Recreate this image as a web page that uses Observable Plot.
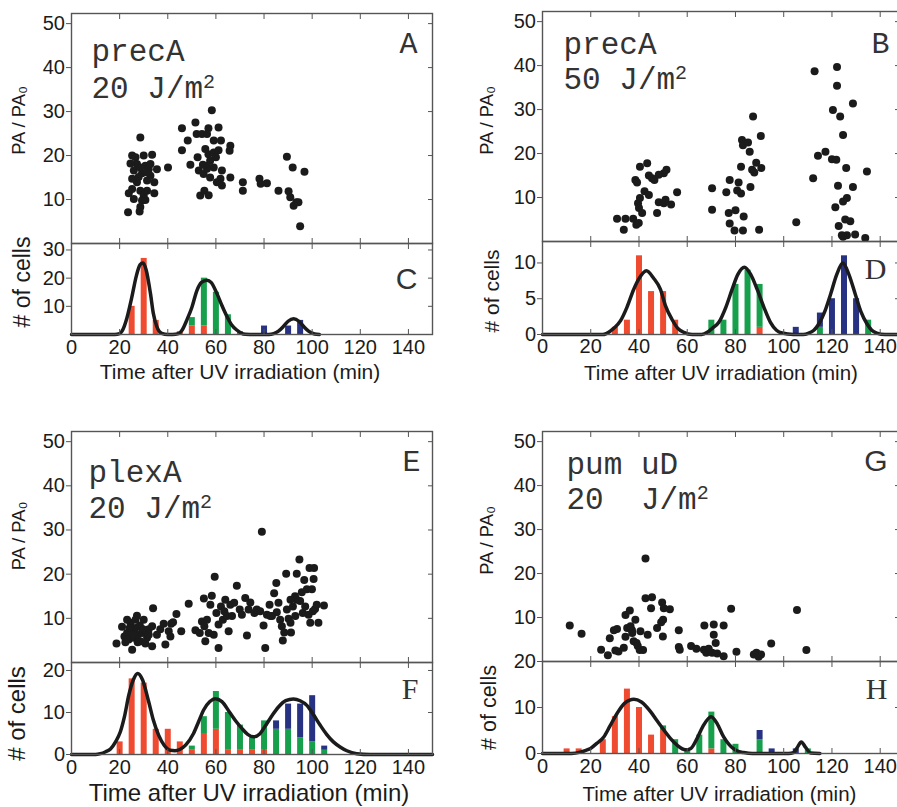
<!DOCTYPE html>
<html><head><meta charset="utf-8">
<script src="https://cdn.jsdelivr.net/npm/d3@7"></script>
<script src="https://cdn.jsdelivr.net/npm/@observablehq/plot@0.6"></script>
<style>
body{margin:0;background:#fff;}
#fig{position:relative;width:897px;height:807px;overflow:hidden;background:#fff;}
#fig svg{position:absolute;overflow:visible;background:transparent;}
</style></head><body><div id="fig"></div>
<script>
// ---------- shared tick labels / text ----------
const xTickValues = [0, 20, 40, 60, 80, 100, 120, 140];
const innerXTicks = [20, 40, 60, 80, 100, 120, 140];
const scatterYTicks = [10, 20, 30, 40, 50];
const xTitle = "Time after UV irradiation (min)";
const yTitleScatter = "PA / PA\u2080";
const yTitleHist = "# of cells";

// ---------- panel A (precA, 20 J/m2): [time, PA/PA0] ----------
const aPoints = [
  [23.5,7.1],[28.3,7.3],[28.6,24.1],[25.2,20.0],[30.0,20.0],[33.5,20.2],[24.5,18.2],[27.2,18.1],[30.7,17.7],
  [25.9,16.6],[32.1,16.9],[35.5,16.9],[29.3,16.0],[32.8,15.4],[27.2,13.9],[34.4,13.9],[31.4,14.3],[25.2,12.4],
  [23.8,11.4],[28.6,12.0],[30.0,10.9],[34.4,11.4],[25.9,10.1],[29.3,9.8],[30.7,9.9],[28.6,8.3],[40.1,17.3],
  [27.9,15.1],[31.4,12.0],[25.2,14.7],[26.6,19.6],[32.8,18.1],[28.6,17.3],[31.4,16.2],
  [45.9,21.2],[45.9,26.2],[48.3,23.4],[49.4,17.9],[51.5,27.5],[52.0,24.9],[54.2,24.9],[56.3,24.9],[56.9,26.2],
  [58.3,30.3],[61.1,26.4],[59.1,23.4],[62.1,23.4],[66.0,22.2],[65.7,21.1],[52.4,19.6],[55.6,21.5],[56.9,20.3],
  [59.1,20.7],[61.1,21.2],[57.6,18.8],[56.3,17.7],[59.1,17.3],[52.9,16.6],[54.9,15.8],[57.6,15.0],[61.9,14.7],
  [66.0,15.0],[62.5,16.6],[60.4,13.9],[62.5,13.2],[53.5,10.9],[55.2,12.0],[57.0,11.0],[56.3,17.0],[60.0,19.6],[54.6,17.9],
  [71.2,13.9],[71.2,12.0],[78.1,14.7],[78.6,13.6],[81.2,13.7],[86.0,12.0],[89.5,19.7],[90.2,11.9],[91.9,17.3],
  [90.9,10.5],[92.3,8.6],[93.4,9.4],[94.3,9.4],[95.0,3.9],[96.8,16.3]
];
// ---------- panel B (precA, 50 J/m2) ----------
const bPoints = [
  [30.9,5.2],[33.7,2.7],[34.4,5.2],[37.6,5.2],[38.9,3.8],[39.9,4.2],[38.5,14.0],[39.2,13.4],[40.4,17.0],[43.4,17.8],
  [39.6,8.7],[40.4,9.9],[40.0,7.6],[41.3,6.5],[42.3,11.4],[44.1,10.6],[44.1,15.0],[45.4,14.4],[46.4,14.0],[47.5,6.5],
  [48.2,8.9],[50.3,8.7],[50.3,15.5],[51.4,16.3],[53.3,8.4],[55.8,11.2],[48.2,15.2],[51.0,9.5],
  [70.3,12.1],[70.3,7.2],[76.2,11.2],[77.6,14.0],[77.2,6.5],[77.6,4.1],[79.6,2.5],[83.1,2.5],[81.3,13.4],[80.7,11.6],
  [82.3,10.9],[83.4,5.7],[80.0,7.1],[82.3,17.0],[82.7,23.1],[83.1,21.9],[85.2,22.5],[85.9,20.4],[86.2,12.4],[87.3,28.4],
  [86.9,16.3],[87.8,15.7],[88.6,17.9],[90.5,24.0],[90.7,16.7],[89.8,2.7],
  [105.2,4.4],[112.2,14.4],[112.8,38.7],[114.2,19.5],[117.3,20.4],[120.0,18.7],[121.8,18.6],[120.4,29.9],[122.1,39.7],
  [122.5,12.7],[122.1,35.4],[123.4,28.4],[124.6,24.2],[125.9,16.7],[128.7,31.4],[128.7,12.4],[124.6,9.1],[126.2,9.9],
  [121.4,7.8],[125.5,5.0],[127.6,4.6],[122.8,3.5],[134.5,15.9],[124.1,1.4],[126.2,1.4],[129.6,1.6],[133.8,0.8],[124.6,1.1]
];
// ---------- panel E (plexA, 20 J/m2) ----------
const ePoints = [
  [18.7,4.3],[21.0,8.1],[22.0,5.9],[23.1,6.7],[23.8,5.2],[24.5,9.0],[25.2,2.9],[25.2,7.3],[25.9,5.6],[26.6,7.8],
  [27.2,10.6],[27.5,6.3],[28.4,8.4],[28.6,4.8],[29.3,6.7],[30.0,9.7],[30.7,4.3],[31.4,5.6],[32.1,7.5],[33.5,3.7],
  [33.5,8.2],[33.9,12.3],[23.1,9.7],[24.2,7.8],[22.4,4.6],[26.6,9.7],[27.5,4.6],[25.6,6.3],[29.7,7.5],[32.1,6.3],
  [35.5,6.3],[36.9,7.5],[38.3,8.8],[39.0,4.1],[40.4,7.1],[41.1,5.9],[41.4,8.8],[42.2,9.1],[43.6,11.0],[45.6,7.1],[48.7,13.3],
  [51.5,7.3],[53.3,6.7],[55.0,14.5],[54.2,9.3],[55.2,8.2],[55.6,4.8],[56.3,9.7],[57.0,6.7],[58.3,15.1],[59.1,6.3],
  [59.5,19.4],[57.7,13.1],[60.2,11.2],[61.1,3.3],[61.1,8.6],[62.1,12.7],[62.9,9.7],[63.5,11.6],[63.9,14.2],[64.6,10.5],
  [65.3,7.1],[66.0,13.1],[66.7,10.5],[67.6,13.5],[68.7,17.4],[69.9,12.0],[70.8,10.8],[72.2,14.6],[72.9,6.1],[73.6,12.0],
  [74.3,13.6],[76.0,11.2],[77.0,12.0],
  [78.4,11.6],[79.1,29.6],[79.8,8.4],[80.5,3.3],[81.2,10.8],[82.3,13.1],[83.3,10.5],[84.2,15.7],[85.1,18.0],[85.3,11.4],
  [86.7,9.7],[87.4,8.2],[87.8,5.0],[88.4,6.8],[89.2,20.1],[89.5,12.0],[90.2,9.9],[91.0,9.0],[91.2,6.8],[92.0,12.7],
  [93.0,10.5],[92.9,15.0],[93.6,20.1],[94.7,23.3],[95.0,13.9],[95.7,15.9],[96.1,11.2],[96.7,18.7],[97.1,12.7],[97.8,16.6],
  [98.5,10.8],[98.9,21.4],[99.2,9.0],[99.9,16.6],[100.6,18.9],[100.8,21.4],[101.2,12.1],[101.9,13.1],[102.6,9.0],[104.9,12.9],
  [100.3,11.6],[93.6,14.2],[91.0,14.2],[86.0,13.5],[82.6,10.5]
];
// ---------- panel G (pumuD, 20 J/m2) ----------
const gPoints = [
  [11.3,8.2],[16.2,6.3],[24.3,2.7],[27.1,1.4],[27.9,5.3],[29.6,7.1],[30.9,7.4],[30.2,2.5],[31.5,2.3],[33.7,3.1],
  [34.4,10.6],[36.2,11.6],[34.4,5.6],[35.1,7.6],[37.1,7.1],[36.5,8.0],[37.2,6.5],[37.8,4.6],[38.5,9.5],[39.0,4.2],
  [39.5,3.5],[40.3,2.6],[40.6,6.9],[41.7,2.6],[42.7,23.4],[42.7,14.4],[43.6,6.1],[45.4,14.6],[45.0,12.1],[47.5,7.6],
  [49.2,8.9],[50.0,9.5],[49.6,13.4],[49.9,5.7],[50.3,12.1],[52.8,11.9],[56.5,7.1],[56.5,3.3],[56.9,2.7],[61.6,3.5],
  [63.8,2.9],[66.9,2.7],[67.1,8.2],[67.9,2.0],[68.9,2.9],[70.3,2.0],[71.0,8.4],[71.0,6.1],[71.8,4.2],[72.4,1.8],
  [75.1,8.2],[75.1,1.2],[78.2,12.0],[80.4,2.2],[87.6,1.6],[88.7,2.0],[89.6,1.1],[90.6,1.6],[94.8,4.1],[105.5,11.7],[109.4,2.6]
];

// ---------- histograms: bin centres and stacked counts ----------
const cBins  = [25, 30, 35, 45, 50, 55, 60, 65, 70, 80, 90, 95];
const cRed   = [10, 27,  5,  1,  3,  3,  0,  0,  0,  0,  0,  0];
const cGreen = [ 0,  0,  0,  0,  3, 17, 15,  7,  1,  0,  0,  0];
const cBlue  = [ 0,  0,  0,  0,  0,  0,  0,  0,  0,  3,  3,  5];

const dBins  = [30, 35, 40, 45, 50, 55, 70, 75, 80, 85, 90, 105, 115, 120, 125, 130, 135];
const dRed   = [ 1,  2, 11,  6,  6,  2,  0,  0,  0,  0,  1,   0,   0,   0,   0,   0,   0];
const dGreen = [ 0,  0,  0,  0,  0,  0,  2,  2,  7,  9,  6,   0,   1,   0,   0,   0,   2];
const dBlue  = [ 0,  0,  0,  0,  0,  0,  0,  0,  0,  0,  0,   1,   2,   5,  11,   5,   0];

const fBins  = [20, 25, 30, 35, 40, 45, 50, 55, 60, 65, 70, 75, 80, 85, 90, 95, 100, 105];
const fRed   = [ 3, 18, 17,  6,  6,  3,  1,  5,  6,  1,  1,  1,  1,  0,  0,  0,   0,   0];
const fGreen = [ 0,  0,  0,  0,  0,  0,  1,  4,  9,  9,  6,  3,  7,  6,  6,  4,   3,   1];
const fBlue  = [ 0,  0,  0,  0,  0,  0,  0,  0,  0,  0,  0,  0,  0,  2,  6,  8,  11,   1];

const hBins  = [10, 15, 25, 30, 35, 40, 45, 50, 55, 60, 65, 70, 75, 80, 90, 95, 105, 110];
const hRed   = [ 1,  1,  3,  8, 14, 10,  4,  5,  0,  0,  0,  1,  0,  0,  0,  0,   0,   0];
const hGreen = [ 0,  0,  0,  0,  0,  0,  0,  1,  3,  1,  4,  8,  3,  2,  3,  0,   0,   1];
const hBlue  = [ 0,  0,  0,  0,  0,  0,  0,  0,  0,  0,  0,  0,  0,  0,  2,  1,   1,   0];

// ---------- fitted curves: [time, count] ----------
const cCurve = [[0,0],[18,0],[20,0.3],[21,1.2],[23,5.8],[25,13],[27,21],[28.5,24.8],[29.7,25.4],[31,23],[32.8,14.6],
  [34,7.5],[35.5,2.7],[37.5,0.4],[40,0],[42,0],[44.5,0.3],[46,1.6],[48,5.3],[50,9.6],[52.1,15.6],[54,18.5],[56.3,19.3],
  [58,18.5],[60.4,14.6],[62.5,10.3],[64.6,6.4],[66.5,3.5],[68.8,1.5],[70.5,0.5],[72.2,0.1],[76,0],[82,0],[84,0.3],
  [86,1.2],[88.1,2.9],[90,4.7],[92.3,5.6],[94.5,4.7],[96.4,2.9],[98.5,1.2],[101,0.2],[103,0]];
const dCurve = [[0,0],[25,0],[28.2,0.5],[30,1],[32.3,1.9],[35,3.8],[37.8,6.3],[40,7.8],[43.1,8.9],[46,7.9],[48.9,6.3],
  [51,4],[53.7,2.1],[56,0.9],[58.6,0.3],[62,0],[66,0],[68.3,0.3],[70.5,0.9],[73.1,1.7],[76,3.8],[78.6,6.3],[81,8.4],
  [83.7,9.4],[86.3,8.4],[89,6.3],[91.8,3.8],[94.5,1.7],[97,0.6],[99.3,0.2],[104,0],[108,0],[110.4,0.2],[112.5,0.6],
  [114.6,1.5],[117,3.2],[119.4,5.6],[122,8.4],[124.5,10],[127,8.4],[129.7,5.6],[132,3.2],[134.5,1.5],[136.5,0.6],
  [138.6,0.2],[142,0],[150,0]];
const fCurve = [[0,0],[10,0],[12,0.2],[14,0.6],[16.2,1.3],[18.3,3],[20.3,5.4],[22,9],[23.8,14.1],[25.7,17.8],[27.5,19.3],
  [29.5,17.8],[32.1,12.5],[34,8.2],[36.2,4.6],[38.5,2.2],[41.1,1.0],[43,0.9],[45,1.2],[47.5,2.3],[50.7,5],[52.8,7.8],
  [54.9,10.6],[57.5,12.6],[59.8,13.3],[62.5,12.6],[66,9.8],[68.5,7.8],[70.8,6.2],[73.2,4.8],[75.7,4.2],[78.2,4.9],
  [81.2,7.4],[83.5,9.4],[86,11.3],[89,12.8],[92.2,13.2],[95,12.8],[97.8,11.7],[100.5,9.5],[103.3,7],[106,4.8],
  [108.8,3],[111.6,1.8],[114.4,0.9],[118.5,0.2],[124,0],[150,0]];
const hCurve = [[0,0],[12,0],[15.7,0.3],[18,0.7],[19.9,1.1],[22.5,2.2],[25.4,3.6],[28,6],[30.9,8.7],[34,10.9],[37.9,11.8],
  [41,11.2],[44.8,9.1],[47.5,7.1],[50.3,5.1],[53,3.3],[55.8,1.8],[59.3,0.8],[61.5,1.1],[64.1,3.3],[66.5,5.9],[69.9,8],
  [72.5,6.4],[75.1,3.6],[77.3,2],[79.3,1],[81.5,0.4],[83.4,0.2],[87,0],[102,0],[104.1,0.2],[105.5,1.2],[107.3,2.5],
  [109,1.4],[111.1,0.1],[115,0]];

// ---------- styling ----------
const SANS = "'Liberation Sans', Arial, Helvetica, sans-serif";
const MONO = "'Liberation Mono', 'Courier New', monospace";
const SERIF = "'Liberation Serif', 'Times New Roman', serif";
const INK = "#1b1b1b";
const AXIS = "#555";
const RED = "#ef4b30", GREEN = "#17a04c", BLUE = "#283282";
const GENE_FS = 31;

const fig = document.getElementById("fig");
function place(svg, left, top) {
  svg.style.position = "absolute";
  svg.style.left = left + "px";
  svg.style.top = top + "px";
  svg.style.overflow = "visible";
  fig.appendChild(svg);
}

function scatterPanel(o) {
  const doseW = o.dose.length * GENE_FS * 0.6;
  return Plot.plot({
    width: o.width, height: o.height,
    marginLeft: o.mL, marginRight: o.mR, marginTop: o.mT, marginBottom: 0,
    x: {domain: [0, o.xMax]},
    y: {domain: [0, 52.3]},
    style: {fontFamily: SANS, fontSize: "20px", color: INK, background: "transparent", overflow: "visible"},
    marks: [
      Plot.frame({stroke: AXIS, strokeWidth: 1.4}),
      Plot.axisY({anchor: "left", ticks: scatterYTicks, tickSize: 5, tickPadding: 1.5, label: null, stroke: AXIS, fontSize: 20}),
      Plot.axisY({anchor: "right", ticks: scatterYTicks, tickSize: -5, tickFormat: () => "", label: null, stroke: AXIS}),
      Plot.axisX({anchor: "top", ticks: innerXTicks, tickSize: -5, tickFormat: () => "", label: null, stroke: AXIS}),
      Plot.axisX({anchor: "bottom", ticks: innerXTicks, tickSize: -5, tickFormat: () => "", label: null, stroke: AXIS}),
      Plot.dot(o.points, {x: d => d[0], y: d => d[1], r: 4, fill: INK, stroke: null}),
      Plot.text([o.gene], {text: d => d, frameAnchor: "top-left", dx: o.gx, dy: o.gy1, textAnchor: "start", lineAnchor: "bottom", fontFamily: MONO, fontSize: GENE_FS, fill: "#333"}),
      Plot.text([o.dose], {text: d => d, frameAnchor: "top-left", dx: o.gx, dy: o.gy2, textAnchor: "start", lineAnchor: "bottom", fontFamily: MONO, fontSize: GENE_FS, fill: "#333"}),
      Plot.text(["2"], {text: d => d, frameAnchor: "top-left", dx: o.gx + doseW, dy: o.gy2 - 10, textAnchor: "start", lineAnchor: "bottom", fontFamily: MONO, fontSize: 20, fill: "#333"}),
      Plot.text([o.letter], {text: d => d, frameAnchor: "top-right", dx: o.lx, dy: o.ly, textAnchor: "end", lineAnchor: "bottom", fontFamily: o.letterFont, fontSize: 30, fill: "#333"}),
      Plot.text([yTitleScatter], {text: d => d, frameAnchor: "left", dx: o.yx, dy: o.yy, rotate: -90, textAnchor: "middle", lineAnchor: "middle", fontSize: 18.5})
    ]
  });
}

function histPanel(o) {
  const rows = [];
  o.bins.forEach((t, i) => {
    if (o.red[i]) rows.push({t, n: o.red[i], c: RED});
    if (o.green[i]) rows.push({t, n: o.green[i], c: GREEN});
    if (o.blue[i]) rows.push({t, n: o.blue[i], c: BLUE});
  });
  return Plot.plot({
    width: o.width, height: o.height,
    marginLeft: o.mL, marginRight: o.mR, marginTop: 0, marginBottom: o.mB,
    x: {domain: [0, o.xMax]},
    y: {domain: [0, o.yMax]},
    color: {type: "identity"},
    style: {fontFamily: SANS, fontSize: "20px", color: INK, background: "transparent", overflow: "visible"},
    marks: [
      Plot.ruleX(rows, Plot.stackY({x: "t", y: "n", stroke: "c", strokeWidth: 6})),
      Plot.line(o.curve, {x: d => d[0], y: d => d[1], stroke: INK, strokeWidth: 3.5, curve: "monotone-x"}),
      Plot.frame({stroke: AXIS, strokeWidth: 1.4}),
      Plot.axisY({anchor: "left", ticks: o.yTicks, tickSize: 5, tickPadding: 1.5, label: null, stroke: AXIS, fontSize: 20}),
      Plot.axisY({anchor: "right", ticks: o.yTicks, tickSize: -5, tickFormat: () => "", label: null, stroke: AXIS}),
      Plot.axisX({anchor: "top", ticks: innerXTicks, tickSize: -5, tickFormat: () => "", label: null, stroke: AXIS}),
      Plot.axisX({anchor: "bottom", ticks: innerXTicks, tickSize: -5, tickFormat: () => "", label: null, stroke: AXIS}),
      Plot.axisX({anchor: "bottom", ticks: xTickValues, tickSize: 0, tickPadding: o.xpad, label: null, fontSize: 20}),
      Plot.text([xTitle], {text: d => d, frameAnchor: "bottom", dx: o.tx, dy: o.ty, textAnchor: "middle", lineAnchor: "bottom", fontSize: o.tfs}),
      Plot.text([yTitleHist], {text: d => d, frameAnchor: "left", dx: o.yx, dy: o.yy, rotate: -90, textAnchor: "middle", lineAnchor: "middle", fontSize: o.yfs}),
      Plot.text([o.letter], {text: d => d, frameAnchor: "top-right", dx: o.lx, dy: o.ly, textAnchor: "end", lineAnchor: "bottom", fontFamily: o.letterFont, fontSize: 30, fill: "#333"})
    ]
  });
}

const LEFT = {width: 450, mL: 71, mR: 18, xMax: 150};
const RIGHT = {width: 472, mL: 92, mR: 23, xMax: 148};

// A
place(scatterPanel({...LEFT, height: 243, mT: 13, points: aPoints, gene: "precA", dose: "20 J/m",
  gx: 20, gy1: 47, gy2: 84, letter: "A", letterFont: MONO, lx: -15, ly: 39, yx: -52, yy: -8}), 0, 0);
// C
place(histPanel({...LEFT, height: 150, mB: 59, yMax: 32.3, yTicks: [10, 20, 30], bins: cBins, red: cRed, green: cGreen, blue: cBlue,
  curve: cCurve, xpad: 5, tx: -12, ty: 44, tfs: 21, yx: -49, yy: -7, yfs: 23, letter: "C", letterFont: SANS, lx: -15, ly: 45}), 0, 243);
// B
place(scatterPanel({...RIGHT, height: 241, mT: 11, points: bPoints, gene: "precA", dose: "50 J/m",
  gx: 21, gy1: 42, gy2: 77, letter: "B", letterFont: MONO, lx: -10, ly: 41, yx: -55, yy: -6}), 450, 0);
// D
place(histPanel({...RIGHT, height: 150, mB: 57, yMax: 13, yTicks: [0, 5, 10], bins: dBins, red: dRed, green: dGreen, blue: dBlue,
  curve: dCurve, xpad: 4, tx: 0, ty: 45, tfs: 20.5, yx: -50, yy: 3, yfs: 21, letter: "D", letterFont: SERIF, lx: -13, ly: 37}), 450, 241);
// E
place(scatterPanel({...LEFT, height: 242, mT: 11, points: ePoints, gene: "plexA", dose: "20 J/m",
  gx: 17, gy1: 50, gy2: 86, letter: "E", letterFont: MONO, lx: -12, ly: 39, yx: -52, yy: -11}), 0, 420);
// F
place(histPanel({...LEFT, height: 145, mB: 53, yMax: 21.9, yTicks: [0, 10, 20], bins: fBins, red: fRed, green: fGreen, blue: fBlue,
  curve: fCurve, xpad: 5, tx: -3, ty: 46, tfs: 24, yx: -54, yy: 5, yfs: 24, letter: "F", letterFont: SERIF, lx: -14, ly: 36}), 0, 662);
// G
place(scatterPanel({...RIGHT, height: 241, mT: 11, points: gPoints, gene: "pum uD", dose: "20  J/m",
  gx: 24, gy1: 42, gy2: 77, letter: "G", letterFont: SANS, lx: -12, ly: 39, yx: -55, yy: -6}), 450, 420);
// H
place(histPanel({...RIGHT, height: 146, mB: 54, yMax: 20, yTicks: [0, 10, 20], bins: hBins, red: hRed, green: hGreen, blue: hBlue,
  curve: hCurve, xpad: 5, tx: -1.5, ty: 47, tfs: 20.5, yx: -53, yy: 0, yfs: 21.5, letter: "H", letterFont: SERIF, lx: -12, ly: 37}), 450, 661);
</script></body></html>
